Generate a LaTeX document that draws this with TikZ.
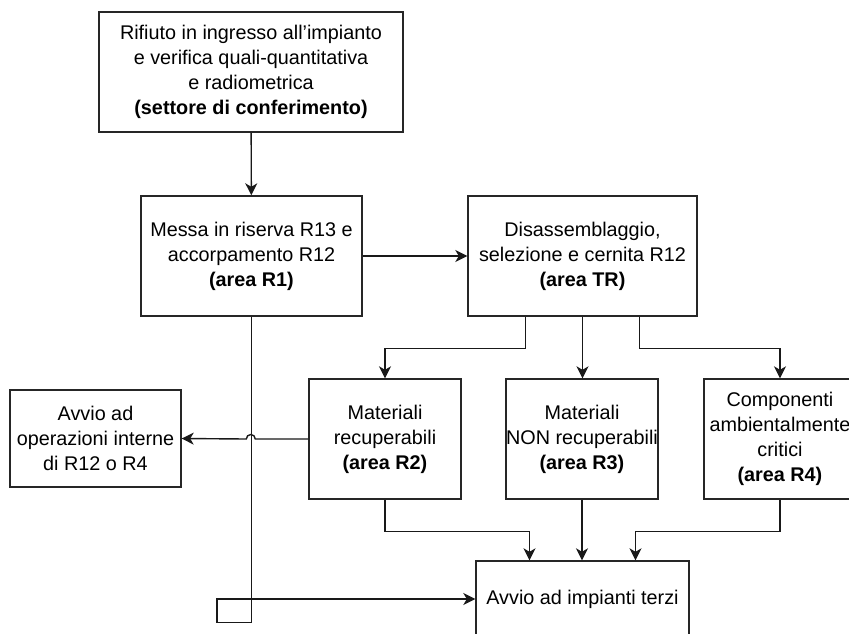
\documentclass[tikz,border=0pt]{standalone}
\usepackage{fontspec}
\setmainfont{Liberation Sans}
\usetikzlibrary{arrows.meta}
\begin{document}
\begin{tikzpicture}[x=1pt,y=-1pt,
  box/.style={draw=black!85,line width=1.4pt,rectangle,align=center,inner sep=0pt,
    font=\fontsize{19.8}{25}\selectfont},
  arr/.style={draw=black!90,line width=1.4pt,-{Stealth[length=12pt,width=12pt,inset=3.5pt]}}]
\useasboundingbox (0,0) rectangle (849,633);
\clip (0,0) rectangle (849,633);

\node[box,minimum width=304pt,minimum height=120pt] (in) at (251,72)
  {Rifiuto in ingresso all’impianto\\e verifica quali-quantitativa\\e radiometrica\\\textbf{(settore di conferimento)}};
\node[box,minimum width=221pt,minimum height=120pt] (r1) at (251.5,256)
  {Messa in riserva R13 e\\accorpamento R12\\\textbf{(area R1)}};
\node[box,minimum width=229pt,minimum height=120pt] (tr) at (582.5,256)
  {Disassemblaggio,\\selezione e cernita R12\\\textbf{(area TR)}};
\node[box,minimum width=171pt,minimum height=97pt] (int) at (95.5,438.5)
  {Avvio ad\\operazioni interne\\di R12 o R4};
\node[box,minimum width=152pt,minimum height=120pt] (r2) at (385,439)
  {Materiali\\recuperabili\\\textbf{(area R2)}};
\node[box,minimum width=152pt,minimum height=120pt] (r3) at (582,439)
  {Materiali\\NON recuperabili\\\textbf{(area R3)}};
\node[box,minimum width=152pt,minimum height=120pt] (r4) at (780,439)
  {Componenti\\ambientalmente\\critici\\\textbf{(area R4)}};
\node[box,minimum width=213pt,minimum height=76pt] (ext) at (582.5,599)
  {Avvio ad impianti terzi};

% main flow
\draw[arr] (in) -- (r1);
\draw[arr] (r1) -- (tr);

% sorting outputs
\draw[arr] ([xshift=-57pt]tr.south) -- ++(0,32) -| (r2.north);
\draw[arr] (tr.south) -- (tr.south |- r3.north);
\draw[arr] ([xshift=57pt]tr.south) -- ++(0,32) -| (r4.north);

% internal recovery, hopping over the R1 line
\draw[arr] (r2.west) -- ++(-53,0) arc[start angle=0,end angle=180,radius=4.5pt] -- (int.east);

% direct route from R1 to third-party plants
\draw[arr] (r1.south) -- ++(0,306) -- ++(-34.5,0) |- (ext.west);

% outputs to third-party plants
\draw[arr] (r2.south) -- ++(0,32) -| ([xshift=-53pt]ext.north);
\draw[arr] (r3.south) -- (r3.south |- ext.north);
\draw[arr] (r4.south) -- ++(0,32) -| ([xshift=53pt]ext.north);
\end{tikzpicture}
\end{document}
